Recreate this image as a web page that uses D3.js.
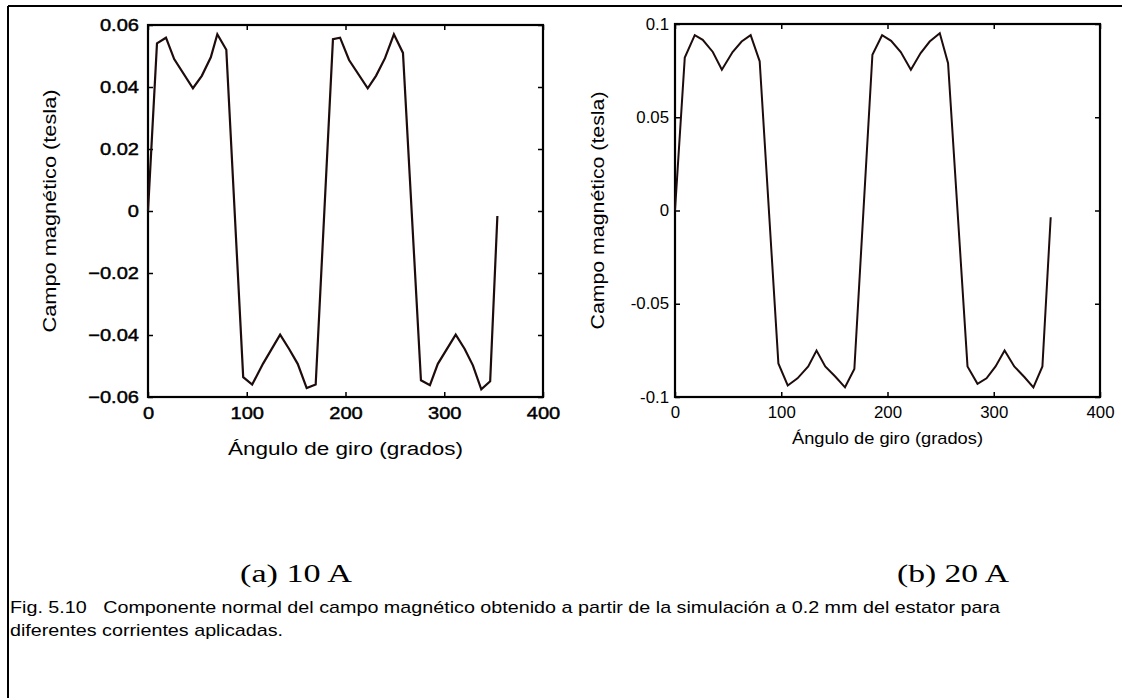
<!DOCTYPE html>
<html>
<head>
<meta charset="utf-8">
<script src="https://cdn.jsdelivr.net/npm/d3@7"></script>
<style>
	body { margin: 0; background: #fff; }
	svg { display: block; }
	text { white-space: pre; }
</style>
</head>
<body>
<svg id="fig"></svg>
<script>

var w = 1122;
var h = 698;

// (a) 10 A
var angle10 = [0, 9.1, 18.2, 26.5, 45.5, 54.5, 63.6, 70.2, 79.3, 96.4, 105.5, 116.4, 133.8, 142.9, 151.6, 160.7, 169.8,
	187.3, 194.5, 203.6, 222.5, 230.9, 240, 249, 258.2, 276.4, 285.5, 293.5, 311.6, 320.7, 329, 337.5, 346.5, 353.8];
var field10 = [0, 0.0541, 0.0559, 0.049, 0.0396, 0.0436, 0.0496, 0.057, 0.052, -0.0536, -0.056, -0.0493, -0.0399, -0.0445, -0.0493, -0.0571, -0.056,
	0.0554, 0.0559, 0.0487, 0.0396, 0.0436, 0.0493, 0.057, 0.051, -0.0546, -0.0562, -0.0493, -0.0399, -0.0445, -0.0498, -0.0575, -0.0549, -0.0016];

// (b) 20 A
var angle20 = [0, 9.2, 18.6, 26.1, 35.6, 44.1, 54.2, 62.7, 71.2, 79.7, 97.3, 106.1, 115.3, 125.4, 133.2, 141.4, 150.8, 160, 168.8,
	185.8, 194.9, 203.4, 212.5, 222, 231.2, 239.7, 249.2, 257, 275.3, 284.7, 293.2, 301.7, 310.2, 319.3, 328.8, 337.3, 345.8, 353.6];
var field20 = [0, 0.082, 0.094, 0.0915, 0.085, 0.0755, 0.085, 0.0906, 0.094, 0.080, -0.082, -0.0938, -0.090, -0.0836, -0.0751, -0.0836, -0.089, -0.0948, -0.085,
	0.0835, 0.094, 0.091, 0.085, 0.0755, 0.0844, 0.0906, 0.095, 0.079, -0.0836, -0.0929, -0.090, -0.0836, -0.0751, -0.0836, -0.0893, -0.0948, -0.0836, -0.0036];

var xTicks = [0, 100, 200, 300, 400];
var yTicks10 = [0.06, 0.04, 0.02, 0, -0.02, -0.04, -0.06];
var yLabels10 = ['0.06', '0.04', '0.02', '0', '\u22120.02', '\u22120.04', '\u22120.06'];
var yTicks20 = [0.1, 0.05, 0, -0.05, -0.1];
var yLabels20 = ['0.1', '0.05', '0', '-0.05', '-0.1'];

var xTitle = '\u00c1ngulo de giro (grados)';
var yTitle = 'Campo magn\u00e9tico (tesla)';
var captionLines = [
	'Fig. 5.10   Componente normal del campo magn\u00e9tico obtenido a partir de la simulaci\u00f3n a 0.2 mm del estator para',
	'diferentes corrientes aplicadas.'
];

var sans = "'Liberation Sans', Arial, sans-serif";
var serif = "'Liberation Serif', 'Times New Roman', serif";

var svg = d3.select('#fig')
	.attr('width', w)
	.attr('height', h);

// page frame (top and left rules)
svg.append('line').attr('x1', 8).attr('y1', 6).attr('x2', w).attr('y2', 6)
	.style('stroke', '#000').style('stroke-width', 2);
svg.append('line').attr('x1', 8).attr('y1', 6).attr('x2', 8).attr('y2', h)
	.style('stroke', '#000').style('stroke-width', 2);

function stretch(sel, f) {
	sel.each(function() {
		var n = this.getComputedTextLength();
		d3.select(this).attr('textLength', n * f).attr('lengthAdjust', 'spacingAndGlyphs');
	});
}

function panel(p) {

	var g = svg.append('g');

	var x = d3.scaleLinear().domain([0, 400]).range([p.left, p.right]);
	var y = d3.scaleLinear().domain([-p.ymax, p.ymax]).range([p.bottom, p.top]);

	var xa = g.append('g')
		.attr('transform', 'translate(0,' + p.bottom + ')')
		.call(d3.axisBottom(x).tickValues(xTicks).tickFormat(d3.format('d'))
			.tickSizeInner(-5).tickSizeOuter(0).tickPadding(p.xpad));
	var ya = g.append('g')
		.attr('transform', 'translate(' + p.left + ',0)')
		.call(d3.axisLeft(y).tickValues(p.yticks).tickFormat(function(d, i) { return p.ylabels[i]; })
			.tickSizeInner(-5).tickSizeOuter(0).tickPadding(p.ypad));
	g.append('g')
		.attr('transform', 'translate(0,' + p.top + ')')
		.call(d3.axisTop(x).tickValues(xTicks).tickFormat('').tickSizeInner(-5).tickSizeOuter(0));
	g.append('g')
		.attr('transform', 'translate(' + p.right + ',0)')
		.call(d3.axisRight(y).tickValues(p.yticks).tickFormat('').tickSizeInner(-5).tickSizeOuter(0));

	g.selectAll('.domain').remove();
	g.selectAll('.tick line').style('stroke', '#000').style('stroke-width', 1.5);
	g.selectAll('.tick text')
		.style('font-family', sans)
		.style('font-size', p.tickfs + 'px')
		.style('fill', '#000')
		.style('stroke', p.bold ? '#000' : 'none')
		.style('stroke-width', p.bold ? 0.45 : 0);
	stretch(xa.selectAll('.tick text'), p.tickstretch);
	stretch(ya.selectAll('.tick text'), p.tickstretch);

	g.append('rect')
		.attr('x', p.left).attr('y', p.top)
		.attr('width', p.right - p.left).attr('height', p.bottom - p.top)
		.style('fill', 'none').style('stroke', '#000').style('stroke-width', 2.2);

	var line = d3.line()
		.x(function(d) { return x(d[0]); })
		.y(function(d) { return y(d[1]); });

	g.append('path')
		.datum(d3.zip(p.angles, p.values))
		.attr('d', line)
		.style('fill', 'none')
		.style('stroke', '#1e0c0c')
		.style('stroke-width', p.lw)
		.style('stroke-linejoin', 'miter');

	g.append('text')
		.attr('x', (p.left + p.right) / 2)
		.attr('y', p.xtitleY)
		.attr('text-anchor', 'middle')
		.style('font-family', sans)
		.style('font-size', p.titlefs + 'px')
		.attr('textLength', p.xtitleW)
		.attr('lengthAdjust', 'spacingAndGlyphs')
		.text(xTitle);

	g.append('text')
		.attr('transform', 'translate(' + p.ytitleX + ',' + ((p.top + p.bottom) / 2) + ') rotate(-90)')
		.attr('text-anchor', 'middle')
		.style('font-family', sans)
		.style('font-size', p.ytitlefs + 'px')
		.attr('textLength', p.ytitleW)
		.attr('lengthAdjust', 'spacingAndGlyphs')
		.text(yTitle);

	g.append('text')
		.attr('x', p.capX)
		.attr('y', 582)
		.attr('text-anchor', 'middle')
		.style('font-family', serif)
		.style('font-size', '26px')
		.attr('textLength', 112)
		.attr('lengthAdjust', 'spacingAndGlyphs')
		.text(p.cap);
}

panel({
	left: 148, right: 543, top: 25, bottom: 397, ymax: 0.06,
	yticks: yTicks10, ylabels: yLabels10, angles: angle10, values: field10,
	tickfs: 17, tickstretch: 1.18, bold: true, xpad: 10, ypad: 9, lw: 2.2,
	titlefs: 18, xtitleY: 455, xtitleW: 235,
	ytitlefs: 19, ytitleX: 56, ytitleW: 243,
	capX: 296, cap: '(a) 10 A'
});

panel({
	left: 675, right: 1100, top: 24, bottom: 397, ymax: 0.1,
	yticks: yTicks20, ylabels: yLabels20, angles: angle20, values: field20,
	tickfs: 16, tickstretch: 1.05, bold: false, xpad: 10, ypad: 6, lw: 2,
	titlefs: 17, xtitleY: 444, xtitleW: 191,
	ytitlefs: 18, ytitleX: 604, ytitleW: 238,
	capX: 953, cap: '(b) 20 A'
});

// figure caption
var capText = svg.append('g').selectAll('text')
	.data(captionLines)
	.enter()
	.append('text')
	.attr('x', 10)
	.attr('y', function(d, i) { return 613 + i * 23; })
	.style('font-family', sans)
	.style('font-size', '17px')
	.text(function(d) { return d; });

var f = 990 / capText.nodes()[0].getComputedTextLength();
stretch(capText, f);

</script>
</body>
</html>
